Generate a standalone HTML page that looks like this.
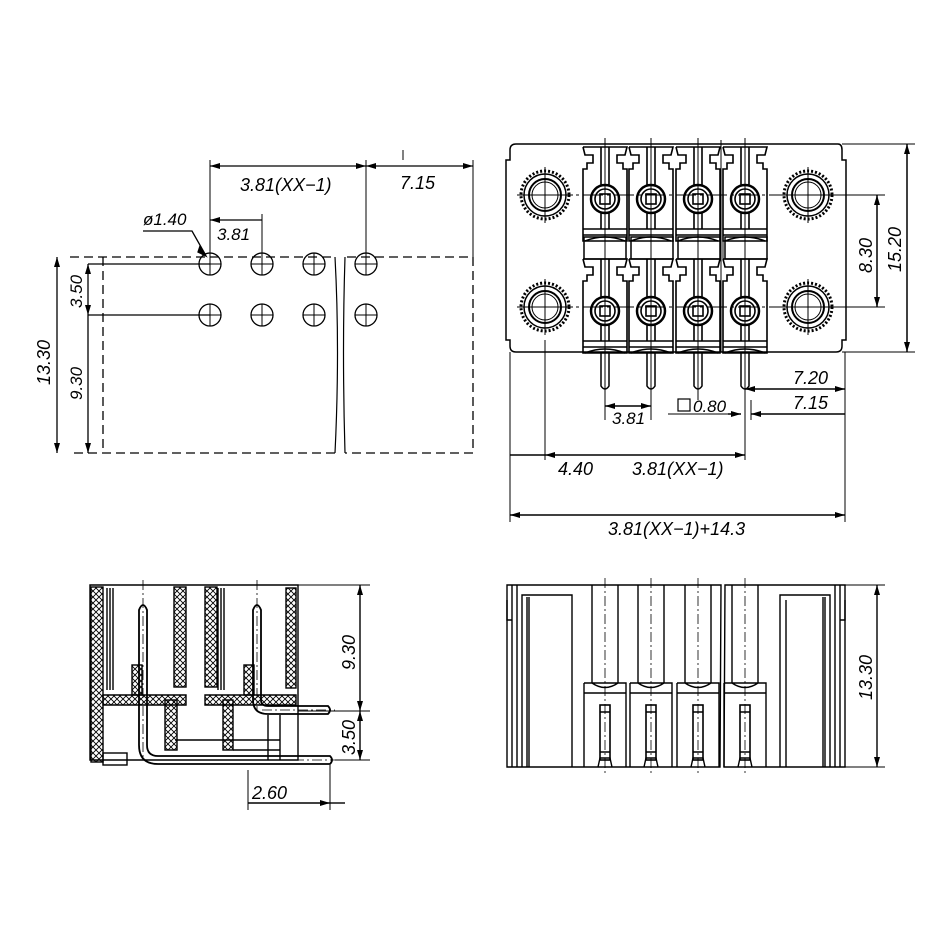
<!DOCTYPE html>
<html><head><meta charset="utf-8"><style>
html,body{margin:0;padding:0;background:#fff}
svg{display:block}
text{font-family:"Liberation Sans",sans-serif;font-style:italic;fill:#000}
</style></head><body>
<svg width="946" height="946" viewBox="0 0 946 946" xmlns="http://www.w3.org/2000/svg">
<defs>
<marker id="a" viewBox="0 0 10 6" refX="10" refY="3" markerWidth="10" markerHeight="6" orient="auto-start-reverse" markerUnits="userSpaceOnUse"><path d="M0,0 L10,3 L0,6 z" fill="#000"/></marker>
<pattern id="x" width="6" height="6" patternUnits="userSpaceOnUse"><path d="M0,0L6,6M6,0L0,6" stroke="#000" stroke-width="0.9"/></pattern>
<g id="hole"><circle r="11" fill="none" stroke="#000" stroke-width="1.3"/><path d="M-11,0H11M0,-11V11" stroke="#000" stroke-width="1"/></g>
<g id="knurl"><circle r="24" fill="none" stroke="#000" stroke-width="3" stroke-dasharray="2 2"/><circle r="21" fill="none" stroke="#000" stroke-width="1.5"/><circle r="16" fill="none" stroke="#000" stroke-width="2"/><circle r="13" fill="none" stroke="#000" stroke-width="1"/><path d="M-28,0H28M0,-28V28" stroke="#000" stroke-width="1"/></g>
<g id="cell" fill="none" stroke="#000" stroke-width="1.6">
<path d="M-22,-52 H22 L20,-44 H12 V-36 L18,-36 V-30 H22 V-10 M-22,-52 L-20,-44 H-12 V-36 L-18,-36 V-30 H-22 V42 H22 V-10"/>
<path d="M-22,30 H22 M-22,36 H22"/>
<path d="M-20,42 Q0,34 20,42"/>
<circle r="14" stroke-width="2.5"/><circle r="10"/><rect x="-5" y="-5" width="10" height="10"/>
<path d="M-4,-52V-14M4,-52V-14M-4,14V30M4,14V30"/>
<path d="M0,-60V60" stroke-width="0.8" stroke-dasharray="8 3 2 3"/>
</g>
</defs>
<g stroke="#000" fill="none" stroke-width="1.3">
<!-- TOP LEFT -->
<path d="M70,257H335M347,257H473V453H345M335,453H70M103,257V453" stroke-dasharray="9 5"/>
<path d="M335,257Q340,350 335,453M345,257Q342,350 345,453" stroke-width="1.2"/>
<path d="M88,264H210M88,315H210"/>
<path d="M210,264V160M262,264V214M366,264V160M473,257V160M403,150V160" stroke-width="1"/>
<line x1="210" y1="166" x2="366" y2="166" marker-start="url(#a)" marker-end="url(#a)"/>
<line x1="366" y1="166" x2="473" y2="166" marker-start="url(#a)" marker-end="url(#a)"/>
<line x1="210" y1="220" x2="262" y2="220" marker-start="url(#a)"/>
<path d="M143,231H192L205,254" /><path d="M200,246L206,256L198,252z" fill="#000"/>
<line x1="57" y1="257" x2="57" y2="453" marker-start="url(#a)" marker-end="url(#a)"/>
<line x1="88" y1="264" x2="88" y2="315" marker-start="url(#a)" marker-end="url(#a)"/>
<line x1="88" y1="315" x2="88" y2="453" marker-end="url(#a)"/>
</g>
<use href="#hole" x="210" y="264"/><use href="#hole" x="262" y="264"/><use href="#hole" x="314" y="264"/><use href="#hole" x="366" y="264"/>
<use href="#hole" x="210" y="315"/><use href="#hole" x="262" y="315"/><use href="#hole" x="314" y="315"/><use href="#hole" x="366" y="315"/>
<text x="240" y="191" font-size="18">3.81(XX−1)</text>
<text x="400" y="189" font-size="18">7.15</text>
<text x="143" y="225" font-size="17">ø1.40</text>
<text x="217" y="240" font-size="17">3.81</text>
<text font-size="18" transform="translate(50,385) rotate(-90)">13.30</text>
<text font-size="17" transform="translate(82,308) rotate(-90)">3.50</text>
<text font-size="17" transform="translate(82,400) rotate(-90)">9.30</text>

<!-- TOP RIGHT -->
<g stroke="#000" fill="none" stroke-width="1.5">
<path d="M516,144H838Q842,144 842,150V160H846V340H842V346Q842,352 836,352H516Q510,352 510,346V340H506V160H510V150Q510,144 516,144Z"/>
<path d="M605,138V400M651,138V400M698,138V400M745,138V400" stroke-width="1"/>
<path d="M521,195H842M521,307H842" stroke-width="1" stroke-dasharray="20 4 3 4"/>
<path d="M842,195H885M842,307H885M842,144H915M842,352H915" stroke-width="1"/>
<line x1="907" y1="144" x2="907" y2="352" marker-start="url(#a)" marker-end="url(#a)"/>
<line x1="877" y1="195" x2="877" y2="307" marker-start="url(#a)" marker-end="url(#a)"/>
<rect x="584" y="237" width="42" height="22"/><rect x="631" y="237" width="42" height="22"/><rect x="678" y="237" width="42" height="22"/><rect x="725" y="237" width="42" height="22"/>
<path d="M721,140V352M723,236V260" stroke-width="1"/>
<!-- pins -->
<path d="M601,352V386Q605,392 609,386V352M647,352V386Q651,392 655,386V352M694,352V386Q698,392 702,386V352M741,352V386Q745,392 749,386V352"/>
<path d="M545,340V460M510,352V522M845,352V522M845,352V395M745,390V460M751,400V420M605,400V420M651,400V420" stroke-width="1"/>
<line x1="745" y1="389" x2="845" y2="389" marker-start="url(#a)" marker-end="url(#a)"/>
<line x1="751" y1="414" x2="845" y2="414" marker-start="url(#a)"/>
<line x1="605" y1="406" x2="651" y2="406" marker-start="url(#a)" marker-end="url(#a)"/>
<path d="M668,414H741" stroke-width="1"/><line x1="728" y1="414" x2="741" y2="414" marker-end="url(#a)"/>
<line x1="545" y1="455" x2="745" y2="455" marker-start="url(#a)" marker-end="url(#a)"/>
<line x1="510" y1="455" x2="545" y2="455"/>
<line x1="510" y1="515" x2="845" y2="515" marker-start="url(#a)" marker-end="url(#a)"/>
<rect x="678" y="399" width="12" height="12" stroke-width="1.2"/>
</g>
<use href="#knurl" x="545" y="195"/><use href="#knurl" x="808" y="195"/>
<use href="#knurl" x="545" y="307"/><use href="#knurl" x="808" y="307"/>
<use href="#cell" x="605" y="199"/><use href="#cell" x="651" y="199"/><use href="#cell" x="698" y="199"/><use href="#cell" x="745" y="199"/>
<use href="#cell" x="605" y="311"/><use href="#cell" x="651" y="311"/><use href="#cell" x="698" y="311"/><use href="#cell" x="745" y="311"/>
<text font-size="18" transform="translate(872,273) rotate(-90)">8.30</text>
<text font-size="18" transform="translate(901,272) rotate(-90)">15.20</text>
<text x="793" y="384" font-size="18">7.20</text>
<text x="793" y="409" font-size="18">7.15</text>
<text x="612" y="424" font-size="17">3.81</text>
<text x="693" y="412" font-size="17">0.80</text>
<text x="558" y="475" font-size="18">4.40</text>
<text x="632" y="475" font-size="18">3.81(XX−1)</text>
<text x="608" y="535" font-size="18">3.81(XX−1)+14.3</text>

<!-- BOTTOM LEFT -->
<g stroke="#000" stroke-width="1.4" fill="none">
<path d="M90,585H298V760H90Z"/>
<rect x="91" y="587" width="12" height="175" fill="url(#x)"/>
<rect x="174" y="587" width="12" height="100" fill="url(#x)"/>
<rect x="205" y="587" width="12" height="100" fill="url(#x)"/>
<rect x="286" y="588" width="10" height="100" fill="url(#x)"/>
<path d="M103,695H186V705H103ZM205,695H296V705H205Z" fill="url(#x)"/>
<rect x="165" y="700" width="12" height="50" fill="url(#x)"/>
<rect x="223" y="700" width="10" height="50" fill="url(#x)"/>
<rect x="132" y="665" width="10" height="30" fill="url(#x)"/>
<rect x="244" y="665" width="10" height="30" fill="url(#x)"/>
<path d="M107,588V690M110,588V690M113,588V690M218,588V690M221,588V690M224,588V690"/>
<rect x="103" y="753" width="24" height="12"/>
<path d="M175,740H280M233,750H280M268,715V760M280,715V760"/>
<!-- pins -->
<path d="M139,610Q143,600 147,610V745Q147,756 158,756H330Q334,760 330,764H158Q139,764 139,745Z" stroke-width="1.8"/>
<path d="M253,610Q257,600 261,610V700Q261,706 268,706H328Q332,710 328,714H268Q253,714 253,700Z" stroke-width="1.8"/>
<path d="M143,580V760M257,580V710M150,760H335M262,710H335" stroke-width="0.8" stroke-dasharray="10 3 2 3"/>
<path d="M298,585H370M298,711H370M335,760H370M330,765V810M248,770V810" stroke-width="1"/>
<line x1="360" y1="585" x2="360" y2="711" marker-start="url(#a)" marker-end="url(#a)"/>
<line x1="360" y1="711" x2="360" y2="760" marker-start="url(#a)" marker-end="url(#a)"/>
<line x1="248" y1="803" x2="330" y2="803" marker-end="url(#a)"/>
<line x1="330" y1="803" x2="345" y2="803"/>
</g>
<text font-size="18" transform="translate(355,670) rotate(-90)">9.30</text>
<text font-size="18" transform="translate(355,755) rotate(-90)">3.50</text>
<text x="252" y="799" font-size="18">2.60</text>

<!-- BOTTOM RIGHT -->
<g stroke="#000" stroke-width="1.4" fill="none">
<path d="M507,585H721L720,767H507ZM725,585H845V767H724Z"/>
<path d="M507,600V620H512M845,600V620H840M512,585V767M517,585V767M840,585V767M835,585V767"/>
<path d="M522,767V595H572V767M527,597V767M529,597V767M572,600V767"/>
<path d="M830,767V595H780V767M825,597V767M823,597V767M786,600V767"/>
<g id="slot">
<path d="M592,585V683M618,585V683M584,683H626V767M584,683V767M584,693H626M592,683Q605,692 618,683"/>
<rect x="600" y="705" width="10" height="55" stroke-width="1.6"/>
<path d="M600,712H610M600,752H610M598,767L600,758H610L612,767"/>
<path d="M605,578V775" stroke-width="0.8" stroke-dasharray="10 3 2 3"/>
</g>
<use href="#slot" x="46"/><use href="#slot" x="93"/><use href="#slot" x="140"/>
<path d="M845,585H885M845,767H885" stroke-width="1"/>
<line x1="877" y1="585" x2="877" y2="767" marker-start="url(#a)" marker-end="url(#a)"/>
</g>
<text font-size="18" transform="translate(872,700) rotate(-90)">13.30</text>
</svg>
</body></html>
